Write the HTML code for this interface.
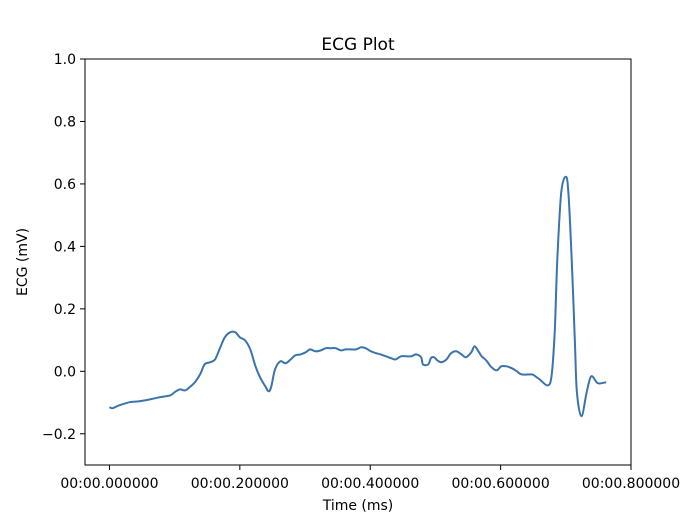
<!DOCTYPE html>
<html><head><meta charset="utf-8"><style>
body{margin:0;background:#fff;}
svg{display:block;font-family:"DejaVu Sans","Liberation Sans",sans-serif;}
</style></head><body>
<svg id="chart" width="700" height="520">
<rect width="700" height="520" fill="#fff"/>
<text x="358" y="50" text-anchor="middle" font-size="17">ECG Plot</text>
<text x="358" y="510" text-anchor="middle" font-size="14">Time (ms)</text>
<text transform="translate(27,262) rotate(-90)" text-anchor="middle" font-size="14">ECG (mV)</text>
<g id="ticks"></g>
<path id="line" fill="none" stroke="#3a73ad" stroke-width="2" stroke-linejoin="round"/>
<rect x="85" y="59" width="546" height="406" fill="none" stroke="#000" stroke-width="1"/>
</svg>
<script>
const times=[0,.005,.015,.031,.046,.062,.077,.093,.100,.108,.116,.123,.131,.139,.146,.154,.162,.170,.177,.185,.193,.200,.208,.216,.224,.231,.239,.244,.248,.254,.262,.270,.278,.285,.293,.301,.308,.316,.324,.332,.339,.347,.355,.362,.370,.378,.386,.393,.401,.409,.416,.424,.432,.439,.447,.455,.463,.470,.478,.481,.489,.493,.498,.503,.509,.517,.524,.532,.540,.547,.555,.560,.566,.571,.578,.586,.594,.601,.609,.617,.625,.632,.648,.655,.660,.672,.678,.683,.687,.693,.700,.704,.709,.714,.717,.724,.732,.739,.749,.762];
const ecg=[-.115,-.118,-.109,-.099,-.096,-.090,-.083,-.077,-.067,-.058,-.061,-.051,-.035,-.010,.022,.029,.038,.077,.109,.125,.125,.109,.099,.070,.016,-.019,-.048,-.064,-.051,.006,.032,.026,.038,.051,.054,.061,.070,.064,.067,.074,.074,.074,.067,.070,.070,.070,.077,.074,.064,.058,.054,.048,.042,.038,.048,.048,.048,.054,.045,.022,.022,.042,.045,.035,.029,.038,.058,.064,.054,.045,.061,.080,.064,.048,.035,.013,.003,.016,.016,.010,0,-.010,-.010,-.019,-.026,-.045,-.016,.125,.358,.572,.623,.572,.358,.093,-.067,-.144,-.067,-.016,-.038,-.035];
const xTicks=[0,0.2,0.4,0.6,0.8];
const xTickLabels=["00:00.000000","00:00.200000","00:00.400000","00:00.600000","00:00.800000"];
const yTicks=[-0.2,0,0.2,0.4,0.6,0.8,1.0];
const yTickLabels=["\u22120.2","0.0","0.2","0.4","0.6","0.8","1.0"];
const L=85,R=631,T=59,B=465,xmin=-0.0375,xmax=0.8,ymin=-0.3,ymax=1.0;
function X(v){return L+(v-xmin)/(xmax-xmin)*(R-L);}
function Y(v){return B-(v-ymin)/(ymax-ymin)*(B-T);}
const ns="http://www.w3.org/2000/svg",g=document.getElementById('ticks');
function mk(t,a){const e=document.createElementNS(ns,t);for(const k in a)e.setAttribute(k,a[k]);g.appendChild(e);return e;}
xTicks.forEach((v,i)=>{
 const l=mk('line',{x1:X(v),x2:X(v),y1:B,y2:B+5,stroke:'#000'});
 
 
 const t=mk('text',{x:X(v),y:B+23,'text-anchor':'middle','font-size':'14'});
 t.textContent=xTickLabels[i];
 
 
});
yTicks.forEach((v,i)=>{
 const l=mk('line',{x1:L-5,x2:L,y1:Y(v),y2:Y(v),stroke:'#000'});
 
 
 const t=mk('text',{x:L-9,y:Y(v)+5,'text-anchor':'end','font-size':'14'});
 t.textContent=yTickLabels[i];
 
 
});
const P=times.map((t,i)=>[X(t),Y(ecg[i])]);
let d='M'+P[0][0].toFixed(1)+','+P[0][1].toFixed(1);
for(let i=0;i<P.length-1;i++){
 const p0=P[Math.max(0,i-1)],p1=P[i],p2=P[i+1],p3=P[Math.min(P.length-1,i+2)];
 const c1=[p1[0]+(p2[0]-p0[0])/6,p1[1]+(p2[1]-p0[1])/6];
 const c2=[p2[0]-(p3[0]-p1[0])/6,p2[1]-(p3[1]-p1[1])/6];
 d+='C'+c1[0].toFixed(1)+','+c1[1].toFixed(1)+' '+c2[0].toFixed(1)+','+c2[1].toFixed(1)+' '+p2[0].toFixed(1)+','+p2[1].toFixed(1);
}
document.getElementById('line').setAttribute('d',d);
</script>
</body></html>
